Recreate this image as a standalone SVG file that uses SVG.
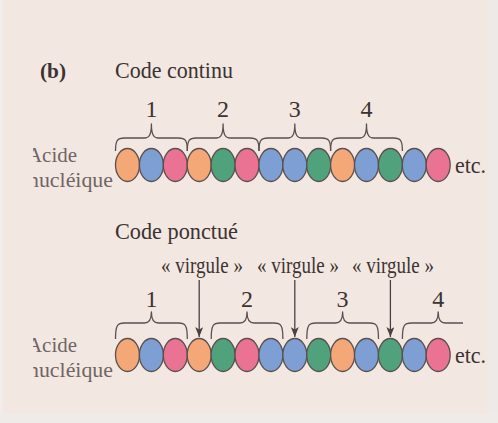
<svg xmlns="http://www.w3.org/2000/svg" width="498" height="423" viewBox="0 0 498 423">
  <defs>
    <style>
      .t { font-family: "Liberation Serif", "Times New Roman", serif; fill: #3b3333; }
      .side { font-family: "Liberation Serif", "Times New Roman", serif; fill: #6f6565; font-size: 22px; }
      .num { font-size: 24px; text-anchor: middle; }
      .bead { stroke: #5b5050; stroke-width: 1.3; }
      .o { fill: #f4a878; }
      .b { fill: #7d9fd4; }
      .p { fill: #ea7394; }
      .g { fill: #4fa27c; }
      .brace { fill: none; stroke: #5a5050; stroke-width: 1.3; stroke-linejoin: round; }
      .arrow { fill: none; stroke: #4a4242; stroke-width: 1.3; marker-end: url(#head); }
    </style>
    <marker id="head" viewBox="0 0 10 8" refX="10" refY="4" markerWidth="10" markerHeight="8" markerUnits="userSpaceOnUse" orient="auto">
      <path d="M0,0 L10,4 L0,8 L2.5,4 Z" fill="#4a4242"/>
    </marker>
    <clipPath id="leftcut">
      <rect x="33" y="0" width="465" height="423"/>
    </clipPath>
    <g id="chain">
      <ellipse class="bead o" cx="127.5" cy="0" rx="12" ry="16.5"/>
      <ellipse class="bead b" cx="151.4" cy="0" rx="12" ry="16.5"/>
      <ellipse class="bead p" cx="175.3" cy="0" rx="12" ry="16.5"/>
      <ellipse class="bead o" cx="199.2" cy="0" rx="12" ry="16.5"/>
      <ellipse class="bead g" cx="223.1" cy="0" rx="12" ry="16.5"/>
      <ellipse class="bead p" cx="247.0" cy="0" rx="12" ry="16.5"/>
      <ellipse class="bead b" cx="270.9" cy="0" rx="12" ry="16.5"/>
      <ellipse class="bead b" cx="294.8" cy="0" rx="12" ry="16.5"/>
      <ellipse class="bead g" cx="318.7" cy="0" rx="12" ry="16.5"/>
      <ellipse class="bead o" cx="342.6" cy="0" rx="12" ry="16.5"/>
      <ellipse class="bead b" cx="366.5" cy="0" rx="12" ry="16.5"/>
      <ellipse class="bead g" cx="390.4" cy="0" rx="12" ry="16.5"/>
      <ellipse class="bead b" cx="414.3" cy="0" rx="12" ry="16.5"/>
      <ellipse class="bead p" cx="438.2" cy="0" rx="12" ry="16.5"/>
    </g>
  </defs>

  <!-- paper -->
  <rect x="0" y="0" width="498" height="423" fill="#f3e7e1"/>
  <rect x="0" y="0" width="3" height="423" fill="#f1ecea"/>
  <rect x="488" y="0" width="10" height="423" fill="#eeeae8"/>
  <rect x="0" y="414" width="498" height="9" fill="#efebe9"/>

  <!-- headings -->
  <g id="heading">
    <text class="t" x="40" y="78" font-size="22" font-weight="bold" textLength="26" lengthAdjust="spacingAndGlyphs">(b)</text>
    <text class="t" x="115" y="78" font-size="24" textLength="118" lengthAdjust="spacingAndGlyphs">Code continu</text>
    <text class="t" x="115" y="239" font-size="24" textLength="123" lengthAdjust="spacingAndGlyphs">Code ponctué</text>
  </g>

  <!-- continuous code -->
  <g id="row-continu">
    <g clip-path="url(#leftcut)">
      <text class="side" x="27" y="162" textLength="50" lengthAdjust="spacingAndGlyphs">Acide</text>
      <text class="side" x="28" y="187" textLength="85" lengthAdjust="spacingAndGlyphs">nucléique</text>
    </g>
    <use href="#chain" y="165"/>
    <text class="t" x="455" y="173" font-size="23" textLength="31" lengthAdjust="spacingAndGlyphs">etc.</text>
    <text class="t num" x="151.4" y="117">1</text>
    <text class="t num" x="223.1" y="117">2</text>
    <text class="t num" x="294.8" y="117">3</text>
    <text class="t num" x="366.5" y="117">4</text>
  </g>

  <!-- punctuated code -->
  <g id="row-ponctue">
    <g clip-path="url(#leftcut)">
      <text class="side" x="27" y="352" textLength="50" lengthAdjust="spacingAndGlyphs">Acide</text>
      <text class="side" x="28" y="377" textLength="85" lengthAdjust="spacingAndGlyphs">nucléique</text>
    </g>
    <use href="#chain" y="355"/>
    <text class="t" x="455" y="363" font-size="23" textLength="31" lengthAdjust="spacingAndGlyphs">etc.</text>
    <text class="t num" x="151.4" y="307">1</text>
    <text class="t num" x="247" y="307">2</text>
    <text class="t num" x="342.6" y="307">3</text>
    <text class="t num" x="438.2" y="307">4</text>
    <text class="t" x="161" y="273" font-size="23" textLength="82" lengthAdjust="spacingAndGlyphs">« virgule »</text>
    <text class="t" x="257" y="273" font-size="23" textLength="82" lengthAdjust="spacingAndGlyphs">« virgule »</text>
    <text class="t" x="352" y="273" font-size="23" textLength="82" lengthAdjust="spacingAndGlyphs">« virgule »</text>
  </g>

  <!-- braces and arrows -->
  <g id="connectors">
    <path class="brace" d="M115.5,151 C115.5,140 117.5,138 124.5,138 L144.4,138 C148.4,138 151.4,136 151.4,124 C151.4,136 154.4,138 158.4,138 L178.3,138 C185.3,138 187.3,140 187.3,151"/>
    <path class="brace" d="M187.3,151 C187.3,140 189.3,138 196.3,138 L216.1,138 C220.1,138 223.1,136 223.1,124 C223.1,136 226.1,138 230.1,138 L250,138 C257,138 259,140 259,151"/>
    <path class="brace" d="M259,151 C259,140 261,138 268,138 L287.8,138 C291.8,138 294.8,136 294.8,124 C294.8,136 297.8,138 301.8,138 L321.6,138 C328.6,138 330.6,140 330.6,151"/>
    <path class="brace" d="M330.6,151 C330.6,140 332.6,138 339.6,138 L359.5,138 C363.5,138 366.5,136 366.5,124 C366.5,136 369.5,138 373.5,138 L393.4,138 C400.4,138 402.4,140 402.4,151"/>

    <path class="brace" d="M115.5,339 C115.5,325 117.5,323 124.5,323 L144.4,323 C148.4,323 151.4,321 151.4,312 C151.4,321 154.4,323 158.4,323 L178.3,323 C185.3,323 187.3,325 187.3,339"/>
    <path class="brace" d="M211.2,339 C211.2,325 213.2,323 220.2,323 L240,323 C244,323 247,321 247,312 C247,321 250,323 254,323 L273.9,323 C280.9,323 282.9,325 282.9,339"/>
    <path class="brace" d="M306.8,339 C306.8,325 308.8,323 315.8,323 L335.6,323 C339.6,323 342.6,321 342.6,312 C342.6,321 345.6,323 349.6,323 L369.5,323 C376.5,323 378.5,325 378.5,339"/>
    <path class="brace" d="M402.4,339 C402.4,325 404.4,323 411.4,323 L431.2,323 C435.2,323 438.2,321 438.2,312 C438.2,321 441.2,323 445.2,323 L463,323"/>

    <path class="arrow" d="M199.2,280 L199.2,337"/>
    <path class="arrow" d="M294.8,280 L294.8,337"/>
    <path class="arrow" d="M390.4,280 L390.4,337"/>
  </g>
</svg>
